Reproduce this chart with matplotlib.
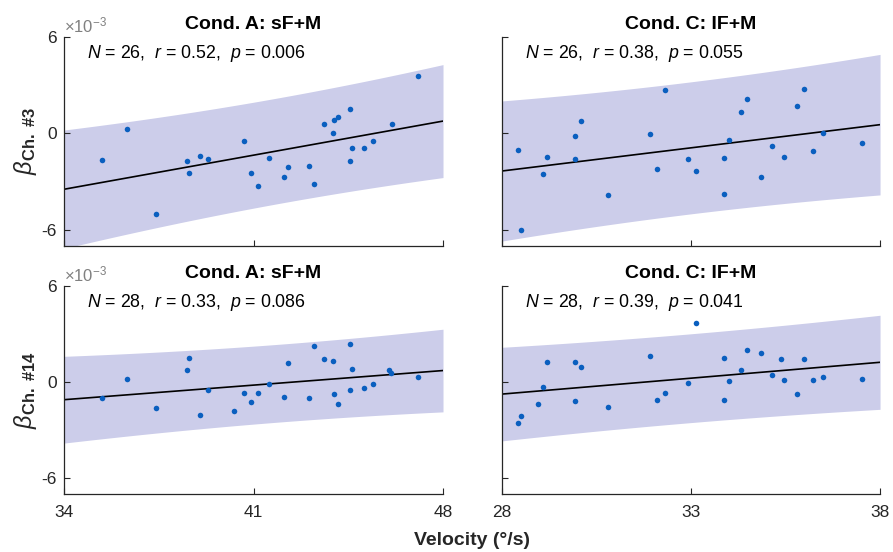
import numpy as np
import matplotlib
matplotlib.use('Agg')
import matplotlib.pyplot as plt

plt.rcParams['font.family'] = ['Liberation Sans', 'DejaVu Sans']
plt.rcParams['mathtext.fontset'] = 'custom'
plt.rcParams['mathtext.rm'] = 'Liberation Sans'
plt.rcParams['mathtext.it'] = 'Liberation Sans:italic'
plt.rcParams['mathtext.bf'] = 'Liberation Sans:bold'
plt.rcParams['axes.unicode_minus'] = False

# values in units of 1e-3
vel_a3 = [35.40, 36.34, 37.40, 38.55, 38.60, 39.02, 39.30, 40.63, 40.92, 41.15, 41.57, 42.13, 42.29,
          43.05, 43.23, 43.59, 43.92, 43.98, 44.11, 44.55, 44.58, 44.65, 45.07, 45.40, 46.11, 47.09]
beta_a3 = [-1.62, 0.31, -5.01, -1.70, -2.45, -1.41, -1.57, -0.48, -2.48, -3.25, -1.51, -2.73, -2.10,
           -2.03, -3.17, 0.59, 0.04, 0.84, 1.05, 1.53, -1.72, -0.88, -0.92, -0.48, 0.59, 3.57]

vel_c3 = [28.41, 28.51, 29.08, 29.20, 29.92, 29.93, 30.10, 30.81, 31.92, 32.11, 32.32, 32.93, 33.13,
          33.86, 33.88, 34.01, 34.32, 34.49, 34.84, 35.13, 35.45, 35.81, 35.99, 36.22, 36.48, 37.53]
beta_c3 = [-1.05, -5.98, -2.50, -1.47, -1.59, -0.13, 0.80, -3.82, -0.04, -2.22, 2.69, -1.59, -2.35,
           -3.78, -1.51, -0.42, 1.32, 2.12, -2.69, -0.76, -1.47, 1.68, 2.79, -1.11, 0.02, -0.59]

vel_a14 = [35.40, 36.34, 37.40, 38.55, 38.60, 39.02, 39.30, 40.27, 40.63, 40.92, 41.15, 41.57, 42.13, 42.29,
           43.05, 43.23, 43.59, 43.92, 43.98, 44.11, 44.55, 44.58, 44.65, 45.07, 45.40, 46.01, 46.08, 47.09]
beta_a14 = [-1.01, 0.19, -1.65, 0.76, 1.52, -2.06, -0.51, -1.83, -0.70, -1.28, -0.68, -0.14, -0.93, 1.17,
            -1.01, 2.26, 1.46, 1.30, -0.76, -1.40, 2.37, -0.51, 0.84, -0.39, -0.12, 0.76, 0.56, 0.33]

vel_c14 = [28.41, 28.51, 28.96, 29.08, 29.20, 29.92, 29.93, 30.10, 30.81, 31.92, 32.11, 32.32, 32.93, 33.13,
           33.86, 33.88, 34.01, 34.32, 34.49, 34.84, 35.13, 35.37, 35.45, 35.81, 35.99, 36.22, 36.48, 37.53]
beta_c14 = [-2.55, -2.10, -1.38, -0.33, 1.28, 1.26, -1.17, 0.95, -1.58, 1.60, -1.15, -0.68, -0.04, 3.68,
            -1.13, 1.52, 0.04, 0.74, 2.00, 1.79, 0.41, 1.42, 0.12, -0.78, 1.46, 0.10, 0.31, 0.21]

titles = ['Cond. A: sF+M', 'Cond. C: IF+M']
channels = ['#3', '#14']
stats_txt = [['N = 26', 'r = 0.52', 'p = 0.006'], ['N = 26', 'r = 0.38', 'p = 0.055'],
             ['N = 28', 'r = 0.33', 'p = 0.086'], ['N = 28', 'r = 0.39', 'p = 0.041']]
xlims = [(34, 48), (28, 38)]
xticks = [[34, 41, 48], [28, 33, 38]]

panels = [(vel_a3, beta_a3), (vel_c3, beta_c3), (vel_a14, beta_a14), (vel_c14, beta_c14)]

def tcrit(df):
    try:
        from scipy import stats
        return stats.t.ppf(0.975, df)
    except ImportError:
        return 2.06

band_col = '#cccdea'
dot_col = '#0a5fbf'
ink = '#262626'

fig = plt.figure(figsize=(8.93, 5.52), dpi=100)
positions = [[0.0717, 0.5543, 0.4244, 0.3786], [0.5622, 0.5543, 0.4233, 0.3786],
             [0.0717, 0.1051, 0.4244, 0.3768], [0.5622, 0.1051, 0.4233, 0.3768]]

for i, (xs, ys) in enumerate(panels):
    ax = fig.add_axes(positions[i])
    col = i % 2
    row = i // 2
    x = np.array(xs)
    y = np.array(ys)
    n = len(x)
    b, a = np.polyfit(x, y, 1)
    res = y - (a + b * x)
    s = np.sqrt(np.sum(res ** 2) / (n - 2))
    xx = np.linspace(xlims[col][0], xlims[col][1], 200)
    yy = a + b * xx
    # 95% prediction interval
    half = tcrit(n - 2) * s * np.sqrt(1 + 1 / n + (xx - x.mean()) ** 2 / np.sum((x - x.mean()) ** 2))
    ax.fill_between(xx, yy - half, yy + half, color=band_col, lw=0, zorder=1)
    ax.plot(xx, yy, color='black', lw=1.2, zorder=2)
    ax.plot(x, y, 'o', color=dot_col, ms=4, mew=0, zorder=3)

    ax.set_xlim(xlims[col])
    ax.set_ylim(-7, 6)
    ax.set_xticks(xticks[col])
    ax.set_yticks([-6, 0, 6])
    ax.tick_params(direction='in', length=4, width=0.8, colors=ink, labelsize=12.5)
    ax.tick_params(axis='x', pad=8)
    ax.tick_params(axis='y', pad=5)
    if row == 0:
        ax.set_xticklabels([])
    if col == 1:
        ax.set_yticklabels([])
    for sp in ['top', 'right']:
        ax.spines[sp].set_visible(False)
    for sp in ['left', 'bottom']:
        ax.spines[sp].set_color(ink)
        ax.spines[sp].set_linewidth(0.9)

    ax.set_title(titles[col], fontweight='bold', fontsize=14, pad=6, color='black')
    nn, rr, pp = stats_txt[i]
    label = '$N$' + nn[1:] + ',  $r$' + rr[1:] + ',  $p$' + pp[1:]
    ax.text(0.06, 0.92, label, transform=ax.transAxes, fontsize=12.8, va='center', ha='left', color='black')
    if col == 0:
        ax.text(0.0, 1.01, r'$\times10^{-3}$', transform=ax.transAxes, fontsize=12,
                color='#808080', va='bottom', ha='left')
        ax.set_ylabel(r'$\beta_{\mathbf{Ch.\ ' + channels[row].replace('#', r'\#') + '}}$',
                      fontsize=17, color=ink, labelpad=2)

fig.text(0.5286, 0.006, 'Velocity (°/s)', fontweight='bold', fontsize=14, ha='center', va='bottom', color=ink)

fig.savefig('out.png', dpi=100)
